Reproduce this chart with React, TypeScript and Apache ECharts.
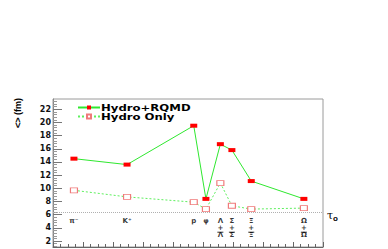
import React, { useEffect, useRef } from "react";
import * as echarts from "echarts";

const masses = [0.1396, 0.4937, 0.9383, 1.0195, 1.1157, 1.1926, 1.3217, 1.6725];
const particleTop = ["π⁻", "K⁺", "p", "φ", "Λ", "Σ", "Ξ", "Ω"];
const particleBottom = ["", "", "", "", "Λ", "Σ", "Ξ", "Ω"];
const hydroRqmd = [14.5, 13.6, 19.5, 8.4, 16.7, 15.8, 11.1, 8.4];
const hydroOnly = [9.7, 8.7, 7.9, 6.85, 10.8, 7.35, 6.85, 7.0];
const seriesNames = ["Hydro+RQMD", "Hydro Only"];
const yTickValues = [2, 4, 6, 8, 10, 12, 14, 16, 18, 20, 22];
const refLevel = 6.3;
const labelRowY = 5.62;

const Y_MIN = 1.1;
const Y_MAX = 23.55;

export default function App() {
  const ref = useRef<HTMLDivElement>(null);
  useEffect(() => {
    if (!ref.current) return;
    const chart = echarts.init(ref.current, null, { renderer: "svg" });
    const minorY: number[] = [];
    for (let i = 3; i <= 58; i++) {
      const v = Math.round(i * 0.4 * 10) / 10;
      if (v % 2 !== 0 && v > Y_MIN && v < Y_MAX) minorY.push(v);
    }
    const font = "'Liberation Sans', Arial, sans-serif";
    const boldWide = "'DejaVu Sans', sans-serif";
    chart.setOption({
      animation: false,
      backgroundColor: "#ffffff",
      grid: {
        left: 53,
        right: 65,
        top: 99,
        bottom: 2,
        show: true,
        borderColor: "#9a9a9a",
        borderWidth: 1,
      },
      legend: {
        left: 77,
        top: 105.5,
        padding: 0,
        orient: "vertical",
        itemWidth: 22,
        itemHeight: 5,
        itemGap: 4,
        formatter: () => "",
        textStyle: { fontSize: 5, lineHeight: 5 },
        data: seriesNames,
      },
      xAxis: {
        type: "value",
        min: 0,
        max: 1.8,
        interval: 0.2,
        axisLine: { show: true, onZero: false, lineStyle: { color: "#666" } },
        axisTick: { show: true, inside: true, length: 5, lineStyle: { color: "#666" } },
        minorTick: { show: true, splitNumber: 4, length: 3, lineStyle: { color: "#666" } },
        axisLabel: { show: false },
        splitLine: { show: false },
      },
      yAxis: [
        {
          type: "value",
          min: Y_MIN,
          max: Y_MAX,
          axisLine: { show: true, lineStyle: { color: "#888" } },
          axisTick: {
            show: true,
            inside: true,
            length: 9,
            customValues: yTickValues,
            lineStyle: { color: "#777" },
          },
          axisLabel: {
            customValues: yTickValues,
            margin: 2,
            fontFamily: boldWide,
            fontWeight: "bold",
            fontSize: 8,
            color: "#111",
          },
          splitLine: { show: false },
        },
        {
          type: "value",
          min: Y_MIN,
          max: Y_MAX,
          position: "left",
          axisLine: { show: false },
          axisTick: {
            show: true,
            inside: true,
            length: 4,
            customValues: minorY,
            lineStyle: { color: "#999" },
          },
          axisLabel: { show: false },
          splitLine: { show: false },
        },
      ],
      series: [
        {
          name: seriesNames[0],
          type: "line",
          data: masses.map((m, i) => [m, hydroRqmd[i]]),
          symbol: "rect",
          symbolSize: [7, 4],
          showAllSymbol: true,
          lineStyle: { color: "#2fe82f", width: 1 },
          itemStyle: { color: "#ff0000", borderWidth: 0 },
          z: 4,
        },
        {
          name: seriesNames[1],
          type: "line",
          data: masses.map((m, i) => [m, hydroOnly[i]]),
          symbol: "rect",
          symbolSize: [7, 5],
          showAllSymbol: true,
          lineStyle: { color: "#5ef05e", width: 1, type: [2, 2] },
          itemStyle: { color: "#ffffff", borderColor: "#f07a7a", borderWidth: 1 },
          markLine: {
            silent: true,
            symbol: ["none", "none"],
            label: { show: false },
            lineStyle: { color: "#b0b0b0", type: [1, 1], width: 1 },
            data: [{ yAxis: refLevel }],
          },
          z: 3,
        },
        {
          name: "labels",
          type: "scatter",
          symbolSize: 0,
          data: masses.map((m, i) => ({ value: [m, labelRowY], name: String(i) })),
          label: {
            show: true,
            position: "inside",
            verticalAlign: "top",
            align: "center",
            formatter: (p: any) => {
              const i = Number(p.name);
              const top = `{t|${particleTop[i]}}`;
              if (!particleBottom[i]) return top;
              return `${top}\n{t|+}\n{o|${particleBottom[i]}}`;
            },
            rich: {
              t: {
                fontFamily: boldWide,
                fontWeight: "bold",
                fontSize: 7,
                lineHeight: 7,
                color: "#000",
                align: "center",
              },
              o: {
                fontFamily: boldWide,
                fontWeight: "bold",
                fontSize: 7,
                lineHeight: 7,
                color: "#000",
                align: "center",
                padding: [1, 0, 0, 0],
              },
            },
          },
          z: 2,
        },
        {
          name: "overlines",
          type: "scatter",
          symbol: "rect",
          symbolSize: [6, 1],
          symbolOffset: [0, 15],
          itemStyle: { color: "#000" },
          data: masses.map((m, i) => (particleBottom[i] ? [m, labelRowY] : null)).filter((d) => d),
          z: 2,
        },
      ],
      graphic: [
        {
          type: "text",
          x: 18,
          y: 113,
          rotation: Math.PI / 2,
          style: {
            text: "<> (fm)",
            fontFamily: font,
            fontWeight: "bold",
            fontSize: 9,
            fill: "#000",
            align: "center",
            verticalAlign: "middle",
          },
        },
        ...seriesNames.map((n, i) => ({
          type: "text",
          x: 101,
          y: 108 + i * 9,
          scaleX: 1.3,
          style: {
            text: n,
            fontFamily: boldWide,
            fontWeight: "bold",
            fontSize: 9,
            fill: "#000",
            align: "left",
            verticalAlign: "middle",
          },
        })),
        {
          type: "text",
          x: 327,
          y: 209,
          style: {
            text: "{a|τ}{b|o}",
            rich: {
              a: { fontFamily: "'DejaVu Serif', serif", fontSize: 11, fill: "#000" },
              b: { fontFamily: font, fontSize: 8, fontWeight: "bold", fill: "#000", padding: [5, 0, 0, 0] },
            },
          },
        },
      ],
    });
    return () => chart.dispose();
  }, []);
  return (
    <div
      ref={ref}
      style={{ position: "fixed", left: 0, top: 0, width: 388, height: 249 }}
    />
  );
}
